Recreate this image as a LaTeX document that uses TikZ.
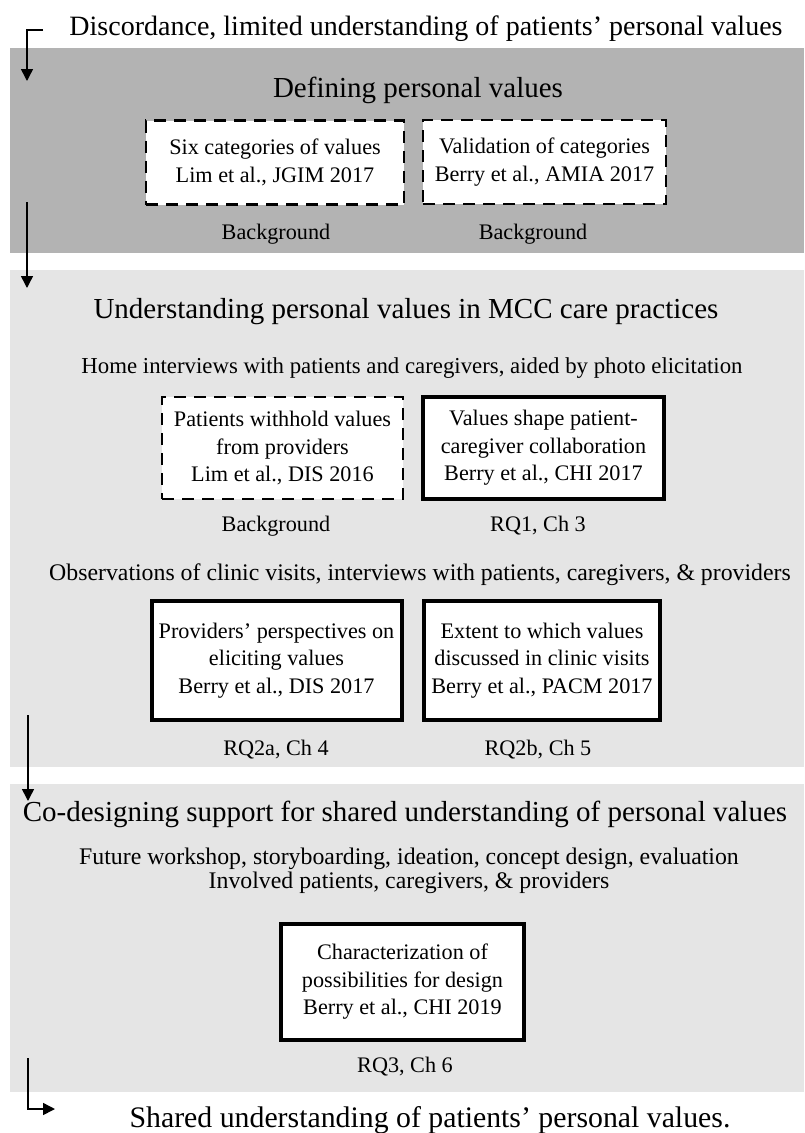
\documentclass[tikz,border=0pt]{standalone}
\usepackage{fontspec}
\setmainfont{Liberation Serif}
\usetikzlibrary{arrows.meta}
\definecolor{paneldark}{RGB}{179,179,179}
\definecolor{panellight}{RGB}{229,229,229}
\begin{document}
\begin{tikzpicture}[x=1pt,y=-1pt,
  ttl/.style={font=\fontsize{29}{33}\selectfont, inner sep=0pt, anchor=base},
  sub/.style={font=\fontsize{23.8}{27}\selectfont, inner sep=0pt, anchor=base},
  lbl/.style={font=\fontsize{22.2}{26}\selectfont, inner sep=0pt, anchor=base},
  bx/.style={fill=white, align=center, font=\fontsize{22.2}{27.5}\selectfont, inner sep=0pt},
  dbox/.style={bx, draw, line width=2.5pt, dash pattern=on 12pt off 8pt},
  sbox/.style={bx, draw, line width=4pt},
  flow/.style={line width=1.5pt, -{Triangle[length=12pt,width=12pt]}}
]
\useasboundingbox (0,0) rectangle (804,1133);
\fill[white] (0,0) rectangle (804,1133);
% panels
\fill[paneldark] (10,48) rectangle (804,253);
\fill[panellight] (10,270) rectangle (804,767);
\fill[panellight] (10,784) rectangle (804,1092);

% top
\node[ttl, font=\fontsize{28}{32}\selectfont] (t0) at (426,35) {Discordance, limited understanding of patients’ personal values};
\coordinate (a1s) at (43,30);
\coordinate (a1c) at (27,30);
\coordinate (a1e) at (27,81);
\draw[flow] (a1s) -- (a1c) -- (a1e);

% panel 1
\node[ttl] (t1) at (418,97) {Defining personal values};
\node[dbox, minimum width=258pt, minimum height=84pt] (b1) at (275,162.5) {Six categories of values\\Lim et al., JGIM 2017};
\node[dbox, minimum width=243pt, minimum height=84pt] (b2) at (544.5,162) {Validation of categories\\Berry et al., AMIA 2017};
\node[lbl] (l1) at (276,239) {Background};
\node[lbl] (l2) at (533,239) {Background};
\coordinate (a2s) at (27,202);
\coordinate (a2e) at (27,288);
\draw[flow] (a2s) -- (a2e);

% panel 2
\node[ttl] (t2) at (406,318) {Understanding personal values in MCC care practices};
\node[sub, font=\fontsize{22.8}{26}\selectfont] (s2) at (412,373) {Home interviews with patients and caregivers, aided by photo elicitation};
\node[dbox, minimum width=241pt, minimum height=102pt] (b3) at (282.5,448) {Patients withhold values\\from providers\\Lim et al., DIS 2016};
\node[sbox, minimum width=241pt, minimum height=102pt] (b4) at (543.5,448) {Values shape patient-\\caregiver collaboration\\Berry et al., CHI 2017};
\node[lbl] (l3) at (276,531) {Background};
\node[lbl] (l4) at (538,531) {RQ1, Ch 3};
\node[sub] (s3) at (420,580) {Observations of clinic visits, interviews with patients, caregivers, \& providers};
\node[sbox, minimum width=250pt, minimum height=119pt] (b5) at (276.5,660.5) {Providers’ perspectives on\\eliciting values\\Berry et al., DIS 2017};
\node[sbox, minimum width=236pt, minimum height=119pt] (b6) at (542,660.5) {Extent to which values\\discussed in clinic visits\\Berry et al., PACM 2017};
\node[lbl] (l5) at (276,755) {RQ2a, Ch 4};
\node[lbl] (l6) at (538,755) {RQ2b, Ch 5};
\coordinate (a3s) at (28,715);
\coordinate (a3e) at (28,801);
\draw[flow] (a3s) -- (a3e);

% panel 3
\node[ttl] (t3) at (405,821) {Co-designing support for shared understanding of personal values};
\node[sub] (s4) at (409,864) {Future workshop, storyboarding, ideation, concept design, evaluation};
\node[sub] (s5) at (409,888) {Involved patients, caregivers, \& providers};
\node[sbox, minimum width=243pt, minimum height=116pt] (b7) at (402.5,982) {Characterization of\\possibilities for design\\Berry et al., CHI 2019};
\node[lbl] (l7) at (405,1072) {RQ3, Ch 6};
\coordinate (a4s) at (28,1058);
\coordinate (a4c) at (28,1109);
\coordinate (a4e) at (55,1109);
\draw[flow] (a4s) -- (a4c) -- (a4e);

% bottom
\node[ttl, font=\fontsize{29.8}{34}\selectfont] (t4) at (430,1127) {Shared understanding of patients’ personal values.};
\end{tikzpicture}
\end{document}
